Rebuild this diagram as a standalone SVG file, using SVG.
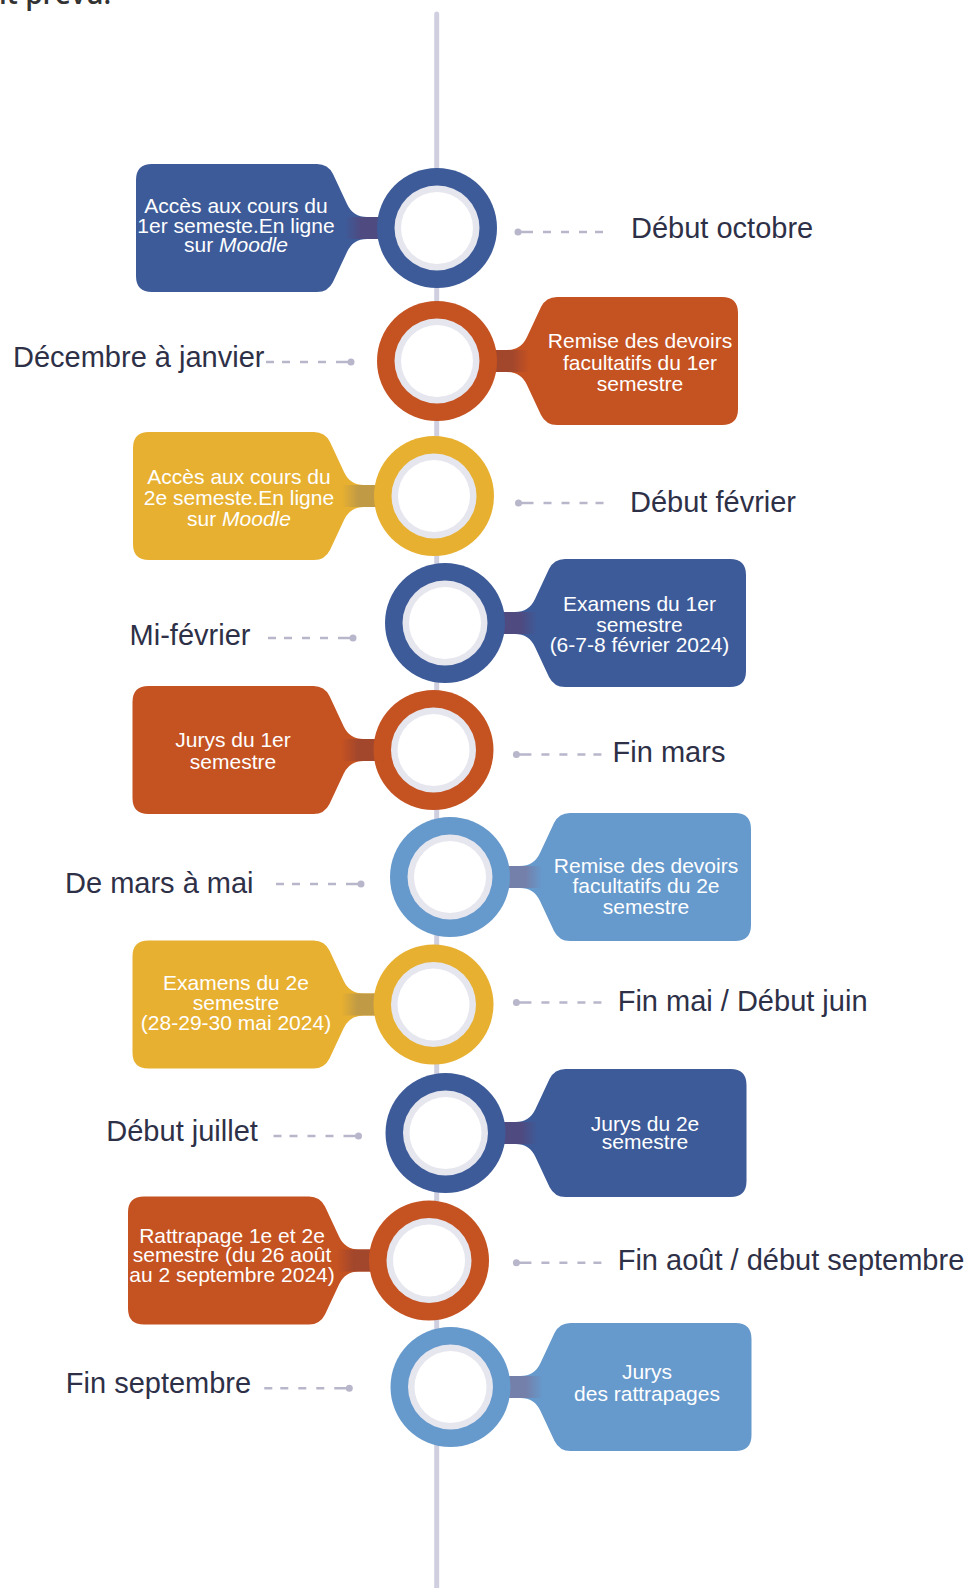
<svg xmlns="http://www.w3.org/2000/svg" xmlns:xlink="http://www.w3.org/1999/xlink" width="967" height="1588" viewBox="0 0 967 1588">
<style>
.lbl{font-family:"Liberation Sans",Arial,sans-serif;font-size:29px;fill:#2e3047}
.bt{font-family:"Liberation Sans",Arial,sans-serif;font-size:21px;fill:#ffffff;text-anchor:middle}
.it{font-style:italic}
.blue{fill:#3d5b99}.orange{fill:#c55221}.yellow{fill:#e7b030}.lblue{fill:#6699cc}
.rin{fill:#e6e6ef}.core{fill:#ffffff}
.lead{stroke:#b8b6cb;stroke-width:2.5;fill:none}.dot{fill:#b8b6cb}
.spine{stroke:#cfcfe0;stroke-width:5;stroke-linecap:round;fill:none}
.head{font-family:"Open Sans","Liberation Sans",sans-serif;font-size:28px;font-weight:600;fill:#333333}
</style>
<defs>
<path id="boxR" d="M40,-11 H70 Q84,-11 90,-24 L104,-54 Q109,-64 120,-64 H285 Q301,-64 301,-48 V48 Q301,64 285,64 H120 Q109,64 104,54 L90,24 Q84,11 70,11 H40 Z"/>
<g id="ringIn"><circle r="42.5" class="rin"/><circle r="36" class="core"/></g>
<g id="leadR"><circle cx="0" cy="0" r="3.5" class="dot"/><path class="lead" d="M0,0 H15 M25,0 H33 M43,0 H51 M61,0 H69 M77,0 H85"/></g>
<linearGradient id="gBlue" x1="0" y1="0" x2="1" y2="0"><stop offset="0" stop-color="#4f4a80"/><stop offset="0.55" stop-color="#4f4a80"/><stop offset="1" stop-color="#3d5b99"/></linearGradient>
<linearGradient id="gOrange" x1="0" y1="0" x2="1" y2="0"><stop offset="0" stop-color="#a3472c"/><stop offset="0.55" stop-color="#a3472c"/><stop offset="1" stop-color="#c55221"/></linearGradient>
<linearGradient id="gYellow" x1="0" y1="0" x2="1" y2="0"><stop offset="0" stop-color="#c09a45"/><stop offset="0.55" stop-color="#c09a45"/><stop offset="1" stop-color="#e7b030"/></linearGradient>
<linearGradient id="gLblue" x1="0" y1="0" x2="1" y2="0"><stop offset="0" stop-color="#7480aa"/><stop offset="0.55" stop-color="#7480aa"/><stop offset="1" stop-color="#6699cc"/></linearGradient>
</defs>
<rect width="967" height="1588" fill="#ffffff"/>
<text class="head" x="-1" y="4">it prévu:</text>
<g id="connectors">
<line class="spine" x1="436.7" y1="14" x2="436.7" y2="1600"/>
<use href="#leadR" transform="translate(518,232)"/>
<use href="#leadR" transform="translate(351,362) scale(-1,1)"/>
<use href="#leadR" transform="translate(518.5,503)"/>
<use href="#leadR" transform="translate(353,638) scale(-1,1)"/>
<use href="#leadR" transform="translate(516.4,754.4)"/>
<use href="#leadR" transform="translate(361,884) scale(-1,1)"/>
<use href="#leadR" transform="translate(516.4,1002.5)"/>
<use href="#leadR" transform="translate(358.5,1136) scale(-1,1)"/>
<use href="#leadR" transform="translate(516.4,1262.7)"/>
<use href="#leadR" transform="translate(349.3,1388.3) scale(-1,1)"/>
</g>
<g id="n1">
<g transform="translate(437,228) scale(-1,1)"><use href="#boxR" class="blue"/><rect x="56" y="-11" width="36" height="22" fill="url(#gBlue)"/><circle r="60" class="blue"/><use href="#ringIn"/></g>
<text class="bt" x="236" y="213">Accès aux cours du</text>
<text class="bt" x="236" y="233">1er semeste.En ligne</text>
<text class="bt" x="236" y="252">sur <tspan class="it">Moodle</tspan></text>
<text class="lbl" x="631" y="238">Début octobre</text>
</g>
<g id="n2">
<g transform="translate(437,361)"><use href="#boxR" class="orange"/><rect x="56" y="-11" width="36" height="22" fill="url(#gOrange)"/><circle r="60" class="orange"/><use href="#ringIn"/></g>
<text class="bt" x="640" y="348">Remise des devoirs</text>
<text class="bt" x="640" y="369.5">facultatifs du 1er</text>
<text class="bt" x="640" y="391">semestre</text>
<text class="lbl" x="13" y="367">Décembre à janvier</text>
</g>
<g id="n3">
<g transform="translate(434,496) scale(-1,1)"><use href="#boxR" class="yellow"/><rect x="56" y="-11" width="36" height="22" fill="url(#gYellow)"/><circle r="60" class="yellow"/><use href="#ringIn"/></g>
<text class="bt" x="239" y="484">Accès aux cours du</text>
<text class="bt" x="239" y="505">2e semeste.En ligne</text>
<text class="bt" x="239" y="526">sur <tspan class="it">Moodle</tspan></text>
<text class="lbl" x="630" y="511.5">Début février</text>
</g>
<g id="n4">
<g transform="translate(445,623)"><use href="#boxR" class="blue"/><rect x="56" y="-11" width="36" height="22" fill="url(#gBlue)"/><circle r="60" class="blue"/><use href="#ringIn"/></g>
<text class="bt" x="639.5" y="611">Examens du 1er</text>
<text class="bt" x="639.5" y="632">semestre</text>
<text class="bt" x="639.5" y="652">(6-7-8 février 2024)</text>
<text class="lbl" x="129.6" y="644.5">Mi-février</text>
</g>
<g id="n5">
<g transform="translate(433.5,750) scale(-1,1)"><use href="#boxR" class="orange"/><rect x="56" y="-11" width="36" height="22" fill="url(#gOrange)"/><circle r="60" class="orange"/><use href="#ringIn"/></g>
<text class="bt" x="233" y="747">Jurys du 1er</text>
<text class="bt" x="233" y="768.5">semestre</text>
<text class="lbl" x="612.6" y="762">Fin mars</text>
</g>
<g id="n6">
<g transform="translate(450,877)"><use href="#boxR" class="lblue"/><rect x="56" y="-11" width="36" height="22" fill="url(#gLblue)"/><circle r="60" class="lblue"/><use href="#ringIn"/></g>
<text class="bt" x="646" y="873">Remise des devoirs</text>
<text class="bt" x="646" y="893">facultatifs du 2e</text>
<text class="bt" x="646" y="914">semestre</text>
<text class="lbl" x="65" y="893">De mars à mai</text>
</g>
<g id="n7">
<g transform="translate(433.5,1004.5) scale(-1,1)"><use href="#boxR" class="yellow"/><rect x="56" y="-11" width="36" height="22" fill="url(#gYellow)"/><circle r="60" class="yellow"/><use href="#ringIn"/></g>
<text class="bt" x="236" y="990">Examens du 2e</text>
<text class="bt" x="236" y="1009.5">semestre</text>
<text class="bt" x="236" y="1029.5">(28-29-30 mai 2024)</text>
<text class="lbl" x="617.7" y="1011">Fin mai / Début juin</text>
</g>
<g id="n8">
<g transform="translate(445.5,1133)"><use href="#boxR" class="blue"/><rect x="56" y="-11" width="36" height="22" fill="url(#gBlue)"/><circle r="60" class="blue"/><use href="#ringIn"/></g>
<text class="bt" x="645" y="1131">Jurys du 2e</text>
<text class="bt" x="645" y="1149">semestre</text>
<text class="lbl" x="106.3" y="1140.5">Début juillet</text>
</g>
<g id="n9">
<g transform="translate(429,1260.5) scale(-1,1)"><use href="#boxR" class="orange"/><rect x="56" y="-11" width="36" height="22" fill="url(#gOrange)"/><circle r="60" class="orange"/><use href="#ringIn"/></g>
<text class="bt" x="232" y="1243">Rattrapage 1e et 2e</text>
<text class="bt" x="232" y="1262">semestre (du 26 août</text>
<text class="bt" x="232" y="1282">au 2 septembre 2024)</text>
<text class="lbl" x="617.7" y="1270">Fin août / début septembre</text>
</g>
<g id="n10">
<g transform="translate(450.5,1387)"><use href="#boxR" class="lblue"/><rect x="56" y="-11" width="36" height="22" fill="url(#gLblue)"/><circle r="60" class="lblue"/><use href="#ringIn"/></g>
<text class="bt" x="647" y="1379">Jurys</text>
<text class="bt" x="647" y="1401">des rattrapages</text>
<text class="lbl" x="65.8" y="1392.5">Fin septembre</text>
</g>
</svg>
